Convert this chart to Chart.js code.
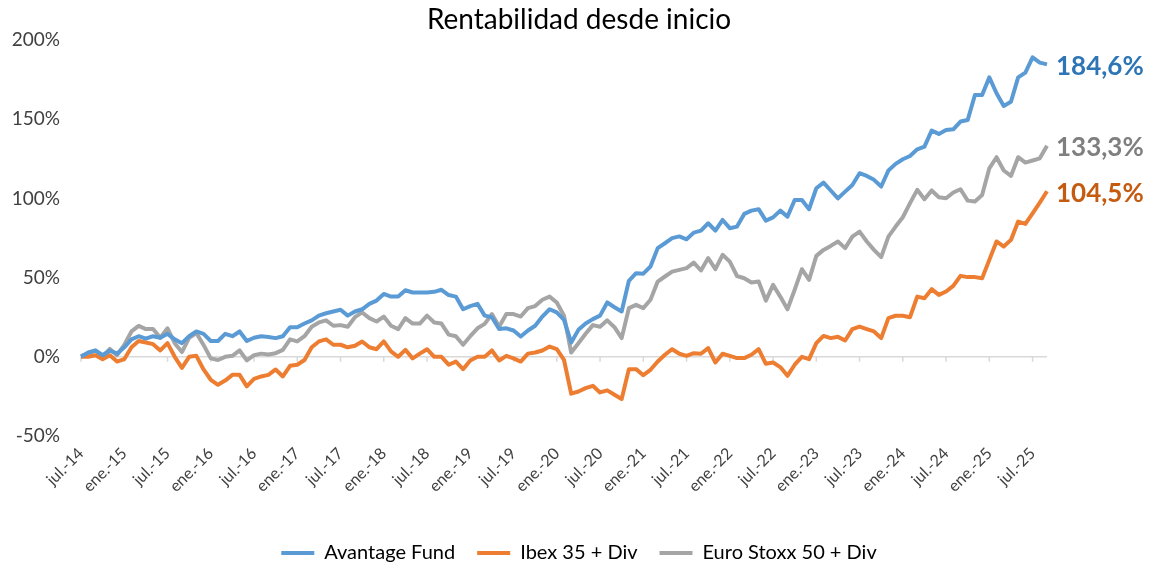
<!DOCTYPE html>
<html>
<head>
<meta charset="utf-8">
<script src="https://cdn.jsdelivr.net/npm/chart.js@4/dist/chart.umd.min.js"></script>
<style>
  body { margin: 0; background: #fff; }
  #wrap { width: 1158px; height: 569px; }
</style>
</head>
<body>
<div id="wrap"><canvas id="chart"></canvas></div>
<script>
// Rentabilidad desde inicio — monthly, jul.-14 to sep.-25

const monthNames = ['ene.', 'feb.', 'mar.', 'abr.', 'may.', 'jun.', 'jul.', 'ago.', 'sept.', 'oct.', 'nov.', 'dic.'];
const months = [];
for (let k = 0; k < 135; k++) {
  const m = (6 + k) % 12;
  const yr = 14 + Math.floor((6 + k) / 12);
  months.push(monthNames[m] + '-' + yr);
}

const yTicks = [-50, 0, 50, 100, 150, 200];

const avantage = [
  0, 2.7, 4, 1, 4, 2, 6, 11, 13, 11.5, 13, 12, 14.5, 11, 8.6, 13, 16, 14.5, 10, 10,
  14.5, 13, 16, 10, 12, 13, 12.5, 11.8, 13, 18.7, 18.7, 21, 23, 26, 27.5, 28.6, 29.7, 26, 28.6, 30,
  33.4, 35.5, 39.7, 38, 38, 42, 40.6, 40.6, 40.6, 41, 42.3, 39, 38, 30, 32, 33.4, 26, 25, 17.5, 18,
  16.6, 12.8, 16.6, 19.6, 25.4, 30, 28, 23.3, 9, 17, 21, 23.8, 26, 34.3, 31.3, 28.6, 48, 52.8, 52.5, 57,
  68.6, 71.7, 74.9, 76, 74.2, 78.4, 79.7, 84.3, 79.7, 86.4, 81.2, 82.2, 90.2, 92.3, 93.2, 86, 88, 92.3, 88.5, 99,
  99, 93.2, 106.4, 110, 105, 100, 104.3, 108.5, 115.9, 114.2, 111.7, 107.5, 117.6, 121.8, 124.7, 126.8, 131, 132.7, 142.8, 140.7,
  143.2, 143.6, 148.5, 149.5, 165.3, 165.3, 176.4, 166.4, 158.4, 161, 176.4, 179.4, 189, 185.7, 184.6
];

const ibex = [
  0, 0, 1, -1.5, 1, -3, -1.5, 6, 10, 9, 8, 4, 8.6, 0, -7, 0, 0.6, -8, -14.5, -17.7,
  -15, -11.4, -11.4, -18.7, -14, -12.4, -11.4, -8, -12.4, -5.7, -5, -2, 6, 9.7, 11, 7.6, 7.6, 6, 7, 9.7,
  6, 4.8, 9.7, 3.4, 0, 4.4, -1, 2, 4.8, 0, 0, -5, -3, -7.8, -2.3, 0, 0, 4, -2.3, 0.6,
  -1, -3, 2, 2.7, 4, 6.5, 4.8, -2, -23.3, -21.9, -19.8, -18.3, -22.5, -21.2, -24, -26.7, -7.8, -7.8, -11.6, -8.2,
  -3, 1.3, 4.8, 1.9, 0.6, 2.3, 1.9, 5.5, -3.6, 1.9, 0.6, -0.8, -0.8, 1.3, 4.8, -4.4, -3.6, -6.5, -12, -5,
  0, -1.5, 8.6, 13.2, 11.8, 12.6, 10.3, 17.5, 19.1, 17.5, 16, 11.8, 24.4, 25.9, 25.9, 25, 38, 37, 42.7, 39.1,
  41.2, 44.8, 51.1, 50.3, 50.3, 49.6, 61.2, 72.8, 69.6, 73.8, 85.4, 83.9, 90.6, 97.4, 104.5
];

const stoxx = [
  0.6, 2, 4, 0, 5, 1, 7.5, 16, 19.5, 17.5, 17.5, 12, 18, 8.6, 3, 12, 15, 7.5, -1, -2,
  0, 0.6, 4, -2.3, 1, 2, 1.5, 2.3, 4.4, 11, 9.7, 13, 19, 21.7, 23, 19.6, 20, 19, 25, 28,
  24.4, 22.3, 25.4, 19.6, 17.5, 24.4, 21, 21, 26, 21.7, 21, 14, 13, 7.6, 13, 18, 20.8, 27, 19, 27,
  27, 25.4, 30.7, 32, 36, 38, 34.3, 26, 2.7, 8.6, 14.5, 20, 19, 23, 18.7, 11.8, 30.7, 32.8, 30.7, 36,
  47.5, 50.7, 53.8, 54.9, 56, 59.5, 54.5, 62.3, 55.3, 64.4, 60.1, 51, 49.6, 46.9, 47.5, 35.5, 45.4, 38, 30, 42.3,
  55.3, 48.6, 63.7, 67.5, 70, 72.8, 68.6, 75.9, 79, 72.8, 67.5, 62.9, 75.9, 82.2, 88.1, 97, 105.4, 99.5, 105, 100.7,
  100.1, 103.7, 105.8, 98.6, 98, 102.2, 119, 126, 117.6, 114.2, 126, 122.6, 123.9, 125.3, 133.3
];

const seriesNames = ['Avantage Fund', 'Ibex 35 + Div', 'Euro Stoxx 50 + Div'];
const lineColors = ['#5B9BD5', '#ED7D31', '#A5A5A5'];
const endLabels = ['184,6%', '104,5%', '133,3%'];
const endColors = ['#2E75B6', '#C55A11', '#7F7F7F'];

Chart.defaults.font.family = 'Lato, sans-serif';
Chart.defaults.color = '#404040';

// horizontal axis line sits at 0% with tick marks every 6 months
const zeroAxis = {
  id: 'zeroAxis',
  beforeDatasetsDraw(chart) {
    const { ctx, chartArea, scales: { x, y } } = chart;
    const y0 = y.getPixelForValue(0);
    ctx.save();
    ctx.strokeStyle = '#D9D9D9';
    ctx.lineWidth = 1.5;
    ctx.beginPath();
    ctx.moveTo(chartArea.left, y0);
    ctx.lineTo(chartArea.right, y0);
    for (let i = 0; i < months.length; i += 6) {
      const px = x.getPixelForValue(i);
      ctx.moveTo(px, y0);
      ctx.lineTo(px, y0 + 5);
    }
    ctx.stroke();
    ctx.restore();
  },
  afterDatasetsDraw(chart) {
    const { ctx } = chart;
    ctx.save();
    ctx.font = 'bold 26px Lato, sans-serif';
    ctx.textBaseline = 'middle';
    ctx.textAlign = 'left';
    chart.data.datasets.forEach((ds, i) => {
      const pts = chart.getDatasetMeta(i).data;
      const last = pts[pts.length - 1];
      ctx.fillStyle = endColors[i];
      ctx.fillText(endLabels[i], last.x + 9, last.y + 2);
    });
    ctx.restore();
  }
};

new Chart(document.getElementById('chart'), {
  type: 'line',
  data: {
    labels: months,
    datasets: [avantage, ibex, stoxx].map((d, i) => ({
      label: seriesNames[i],
      data: d,
      borderColor: lineColors[i],
      backgroundColor: lineColors[i],
      borderWidth: 4,
      pointRadius: 0,
      tension: 0,
      borderJoinStyle: 'round',
    })),
  },
  options: {
    responsive: true,
    maintainAspectRatio: false,
    animation: false,
    layout: { padding: { left: 0, right: 0, top: 0, bottom: -4 } },
    plugins: {
      title: {
        display: true,
        text: 'Rentabilidad desde inicio',
        color: '#000',
        font: { size: 28, weight: 'normal' },
        padding: { top: 3, bottom: 3.4 },
      },
      legend: {
        position: 'bottom',
        labels: {
          font: { size: 20 },
          color: '#404040',
          padding: 22,
          boxWidth: 33,
          boxHeight: 4,
          generateLabels: (chart) => chart.data.datasets.map((ds, i) => ({
            text: ds.label,
            fillStyle: lineColors[i],
            strokeStyle: lineColors[i],
            lineWidth: 0,
            datasetIndex: i,
          })),
        },
      },
      tooltip: { enabled: false },
    },
    scales: {
      x: {
        grid: { display: false, drawTicks: false },
        border: { display: false },
        ticks: {
          autoSkip: false,
          minRotation: 45,
          maxRotation: 45,
          padding: 8,
          color: '#404040',
          font: { size: 16 },
          callback: (v, i) => (i % 6 === 0 ? months[i] : ''),
        },
        afterFit: (s) => { s.height = 85; },
      },
      y: {
        min: -50,
        max: 200,
        grid: { display: false, drawTicks: false },
        border: { display: false },
        afterBuildTicks: (s) => { s.ticks = yTicks.map(v => ({ value: v })); },
        ticks: {
          padding: 21,
          color: '#404040',
          font: { size: 19 },
          callback: (v) => v + '%',
        },
        afterFit: (s) => { s.width = 81; },
      },
      // empty right-hand strip that leaves room for the end labels
      yRight: {
        position: 'right',
        grid: { display: false, drawTicks: false },
        border: { display: false },
        ticks: { display: false },
        afterFit: (s) => { s.width = 111; },
      },
    },
  },
  plugins: [zeroAxis],
});
</script>
</body>
</html>
